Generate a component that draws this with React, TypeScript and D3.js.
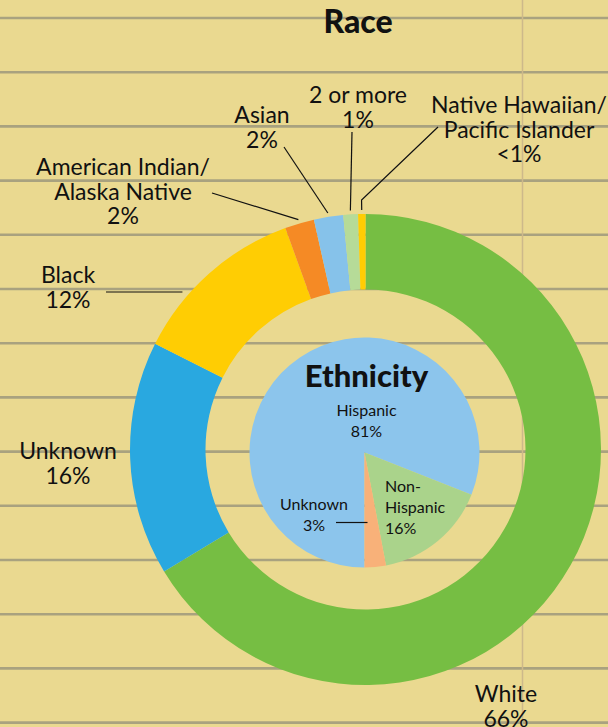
import React from "react";
import * as d3 from "d3";

// ---- Data ----
const raceCategories = ["White", "Unknown", "Black", "American Indian/Alaska Native", "Asian", "2 or more", "Native Hawaiian/Pacific Islander"];
const raceValues = [66, 16, 12, 2, 2, 1, 0.5];
const raceLabels = [["White", "66%"], ["Unknown", "16%"], ["Black", "12%"], ["American Indian/", "Alaska Native", "2%"], ["Asian", "2%"], ["2 or more", "1%"], ["Native Hawaiian/", "Pacific Islander", "<1%"]];
const raceColors = ["#76BE43", "#29A8E0", "#FFCD03", "#F58A25", "#86C2EA", "#B6DB98", "#FFCD03"];

const ethCategories = ["Hispanic", "Non-Hispanic", "Unknown"];
const ethValues = [81, 16, 3];
const ethLabels = [["Hispanic", "81%"], ["Non-", "Hispanic", "16%"], ["Unknown", "3%"]];
const ethColors = ["#8CC5EC", "#AAD38B", "#F8B179"];

// ---- Layout ----
const W = 608, H = 727;
const cx = 365.5, cy = 449.5, R = 235.5, r0 = 160;
const pcx = 364.5, pcy = 452.5, pR = 115;
const FONT = "Lato, 'Open Sans', sans-serif";

// label anchors (text centre x, first baseline y, alignment) and leader start points
const raceLabelPos = [
  { x: 506, y: 702, anchor: "middle", lead: null },
  { x: 68, y: 459, anchor: "middle", lead: null },
  { x: 68, y: 283, anchor: "middle", lead: { x: 106, y: 292, kind: "h" } },
  { x: 123, y: 175, anchor: "middle", lead: { x: 212, y: 193, kind: "r" } },
  { x: 262, y: 123, anchor: "middle", lead: { x: 284, y: 147, kind: "r" } },
  { x: 358, y: 103, anchor: "middle", lead: { x: 352, y: 132, kind: "r" } },
  { x: 519, y: 113, anchor: "middle", lead: { x: 438, y: 127, kind: "bend" } },
];
const ethLabelPos = [
  { x: 366.5, y: 416, anchor: "middle" },
  { x: 385, y: 492, anchor: "start" },
  { x: 314, y: 510, anchor: "middle", lead: { x: 336, y: 522.5 } },
];
const lineYs = d3.range(14).map((k) => 18 + k * 54.2);

export default function App() {
  const racePie = d3.pie<number>().sort(null).startAngle(0).endAngle(2 * Math.PI)(raceValues);
  const ethPie = d3.pie<number>().sort(null).startAngle(Math.PI).endAngle(3 * Math.PI)(ethValues);
  const raceArc = d3.arc<d3.PieArcDatum<number>>().innerRadius(r0).outerRadius(R);
  const ethArc = d3.arc<d3.PieArcDatum<number>>().innerRadius(0).outerRadius(pR);

  const polar = (a: number, rad: number) => [cx + rad * Math.sin(a), cy - rad * Math.cos(a)];

  const leaders: React.ReactNode[] = [];
  racePie.forEach((d, i) => {
    const p = raceLabelPos[i];
    if (!p.lead) return;
    const mid = (d.startAngle + d.endAngle) / 2;
    let pts: number[][];
    if (p.lead.kind === "h") {
      const rr = R + 6;
      const x = cx - Math.sqrt(rr * rr - (p.lead.y - cy) * (p.lead.y - cy));
      pts = [[p.lead.x, p.lead.y], [x, p.lead.y]];
    } else if (p.lead.kind === "bend") {
      pts = [[p.lead.x, p.lead.y], polar(mid, R + 14), polar(mid, R + 4)];
    } else {
      pts = [[p.lead.x, p.lead.y], polar(mid, R + 4)];
    }
    leaders.push(
      <polyline key={"l" + i} points={pts.map((q) => q.join(",")).join(" ")} fill="none" stroke="#111" strokeWidth={1.2} />
    );
  });

  return (
    <svg width={W} height={H} style={{ position: "absolute", left: 0, top: 0 }} viewBox={`0 0 ${W} ${H}`}>
      <defs>
        <filter id="soft" x="-5%" y="-50%" width="110%" height="200%">
          <feGaussianBlur stdDeviation="0.7" />
        </filter>
      </defs>
      <rect x={0} y={0} width={W} height={H} fill="#EAD990" />
      <g filter="url(#soft)">
        {lineYs.map((y, i) => (
          <line key={i} x1={0} x2={W} y1={y} y2={y} stroke="#A9A27F" strokeWidth={2.6} />
        ))}
        <line x1={522.5} x2={522.5} y1={0} y2={H} stroke="#CDB98A" strokeWidth={1.5} />
      </g>

      <text x={358} y={33} textAnchor="middle" fontFamily={FONT} fontWeight={900} fontSize={32} fill="#111">Race</text>

      <g transform={`translate(${cx},${cy})`}>
        {racePie.map((d, i) => (
          <path key={i} d={raceArc(d) || ""} fill={raceColors[i]} />
        ))}
      </g>
      <g transform={`translate(${pcx},${pcy})`}>
        {ethPie.map((d, i) => (
          <path key={i} d={ethArc(d) || ""} fill={ethColors[i]} />
        ))}
      </g>

      {leaders}
      <line x1={ethLabelPos[2].lead!.x} y1={ethLabelPos[2].lead!.y} x2={pcx + 3} y2={ethLabelPos[2].lead!.y} stroke="#111" strokeWidth={1.2} />

      {raceLabels.map((lines, i) => (
        <text key={"rt" + i} x={raceLabelPos[i].x} y={raceLabelPos[i].y} textAnchor={raceLabelPos[i].anchor as any}
          fontFamily={FONT} fontSize={23} fill="#111">
          {lines.map((t, j) => (
            <tspan key={j} x={raceLabelPos[i].x} dy={j === 0 ? 0 : 24.5}>{t}</tspan>
          ))}
        </text>
      ))}

      <text x={366.5} y={387} textAnchor="middle" fontFamily={FONT} fontWeight={900} fontSize={31} fill="#111">Ethnicity</text>
      {ethLabels.map((lines, i) => (
        <text key={"et" + i} x={ethLabelPos[i].x} y={ethLabelPos[i].y} textAnchor={ethLabelPos[i].anchor as any}
          fontFamily={FONT} fontSize={16} fill="#111">
          {lines.map((t, j) => (
            <tspan key={j} x={ethLabelPos[i].x} dy={j === 0 ? 0 : 21}>{t}</tspan>
          ))}
        </text>
      ))}
    </svg>
  );
}
